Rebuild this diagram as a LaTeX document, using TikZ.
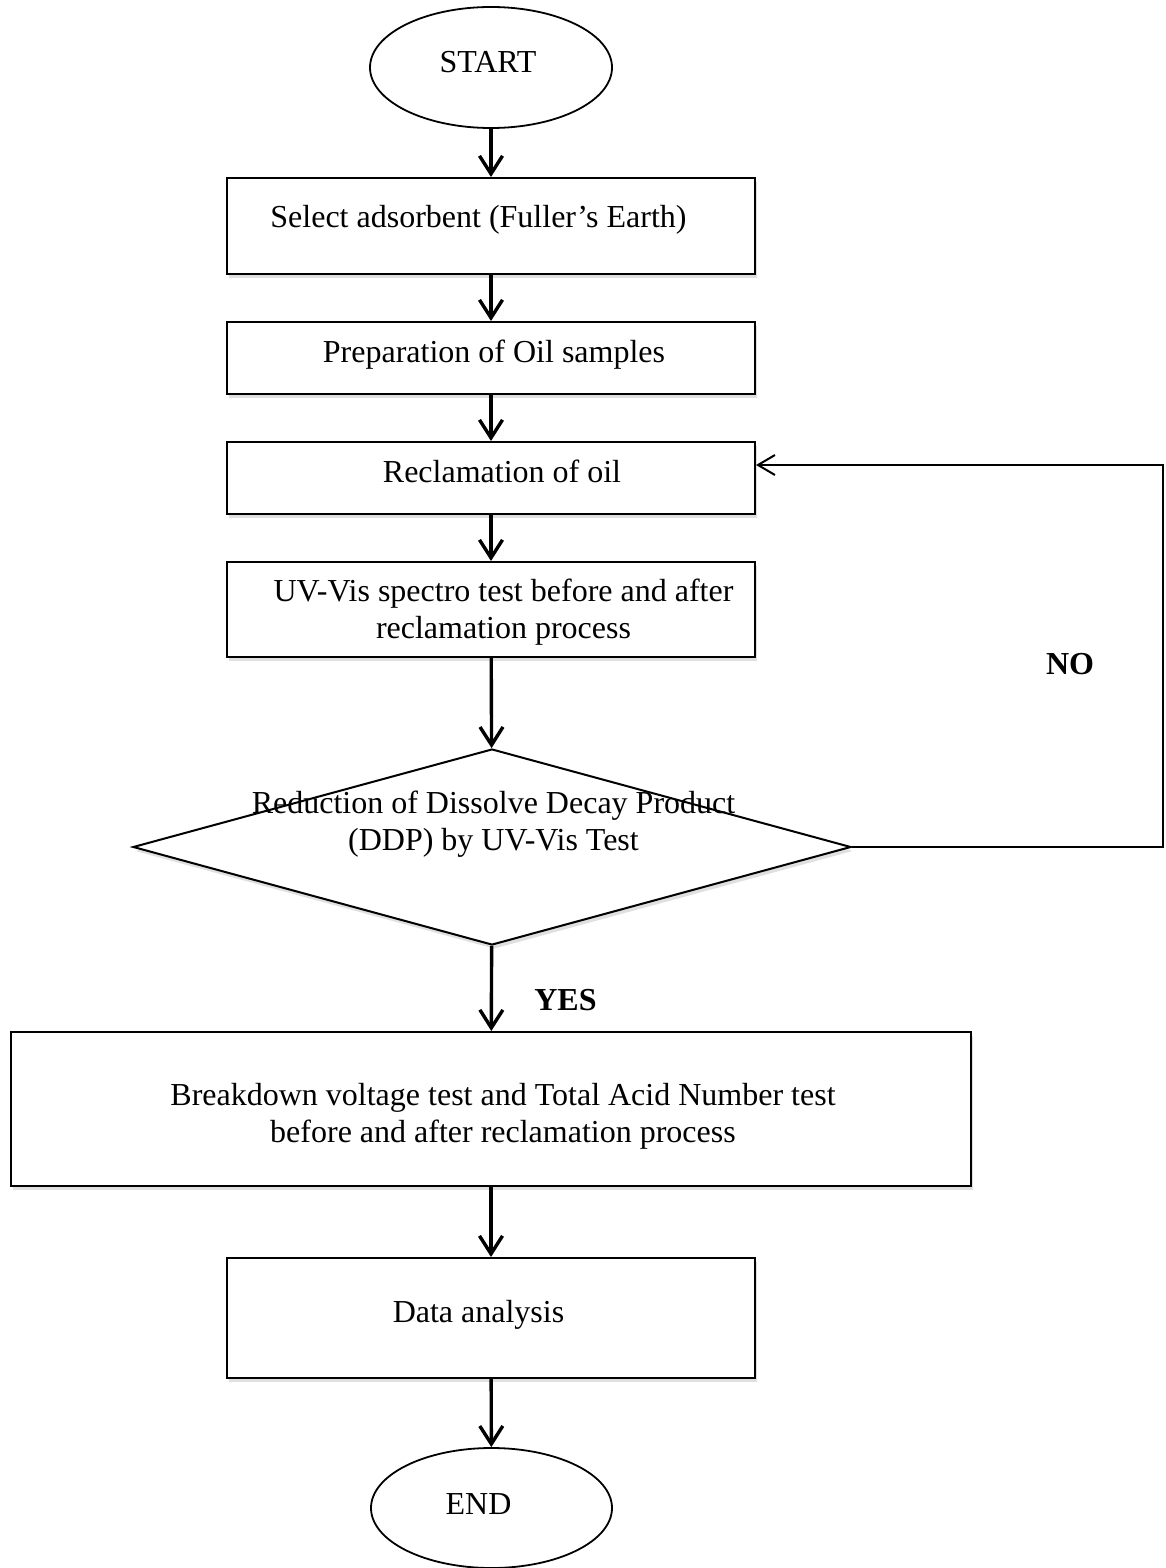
\documentclass[tikz,border=0pt]{standalone}
\usepackage{fontspec}
\setmainfont{Liberation Serif}
\usetikzlibrary{arrows.meta,shapes.geometric,shadows}
\begin{document}
\begin{tikzpicture}[x=1pt,y=-1pt,
  box/.style={draw,line width=2pt,fill=white,inner sep=0pt,
    drop shadow={shadow xshift=2pt,shadow yshift=-4pt,fill=black,opacity=0.12}},
  oval/.style={draw,ellipse,line width=1.8pt,fill=white,inner sep=0pt},
  txt/.style={font=\fontsize{32}{37}\selectfont,align=center,inner sep=0pt},
  lbl/.style={font=\fontsize{32}{37}\selectfont\bfseries,inner sep=0pt,anchor=base},
  flow/.style={line width=3.4pt,-{Straight Barb[length=18pt,width=23pt]}},
  back/.style={line width=2pt,-{Straight Barb[length=17pt,width=20pt]}}]
\useasboundingbox (0,0) rectangle (1165,1568);

% shapes
\node[oval,minimum width=242pt,minimum height=121pt] (start) at (491,67.5) {};
\node[box,minimum width=528pt,minimum height=96pt] (b1) at (491,226) {};
\node[box,minimum width=528pt,minimum height=72pt] (b2) at (491,358) {};
\node[box,minimum width=528pt,minimum height=72pt] (b3) at (491,478) {};
\node[box,minimum width=528pt,minimum height=95pt] (b4) at (491,609.5) {};
\node[box,diamond,minimum width=718pt,minimum height=196pt] (dec) at (492,847) {};
\node[box,minimum width=960pt,minimum height=154pt] (b5) at (491,1109) {};
\node[box,minimum width=528pt,minimum height=120pt] (b6) at (491,1318) {};
\node[oval,minimum width=241pt,minimum height=120pt] (end) at (491.5,1508) {};

% texts
\node[txt,anchor=base] (tstart) at (488,73) {START};
\node[txt,anchor=base] (t1) at (478.5,227) {Select adsorbent (Fuller’s Earth)};
\node[txt,anchor=base] (t2) at (494,362) {Preparation of Oil samples};
\node[txt,anchor=base] (t3) at (502,482) {Reclamation of oil};
\node[txt] (t4) at (503.5,612) {UV-Vis spectro test before and after\\reclamation process};
\node[txt] (tdec) at (493.5,824) {Reduction of Dissolve Decay Product\\(DDP) by UV-Vis Test};
\node[txt] (t5) at (503,1116) {Breakdown voltage test and Total Acid Number test\\before and after reclamation process};
\node[txt,anchor=base] (t6) at (478.5,1322) {Data analysis};
\node[txt,anchor=base] (tend) at (478.5,1514) {END};

% labels
\node[lbl] (yes) at (565.5,1010) {YES};
\node[lbl] (no) at (1070,674) {NO};

% connectors
\draw[flow] (start) -- (b1);
\draw[flow] (b1) -- (b2);
\draw[flow] (b2) -- (b3);
\draw[flow] (b3) -- (b4);
\draw[flow] (b4) -- (dec);
\draw[flow] (dec) -- (b5);
\draw[flow] (b5) -- (b6);
\draw[flow] (b6) -- (end);
\draw[back] (dec.east) -- (1163,847) -- (1163,465) -- ([yshift=13pt]b3.east);
\end{tikzpicture}
\end{document}
